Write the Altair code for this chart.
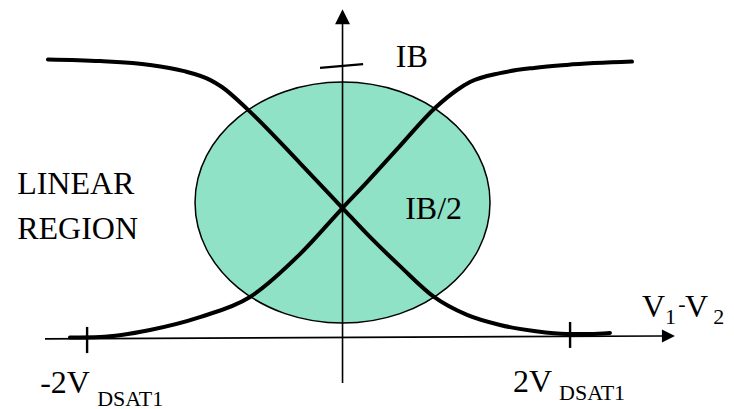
import altair as alt
import pandas as pd

# Drain currents of the differential pair versus V1-V2.
# Current is normalised to IB = 1; x is in units where 2V_DSAT1 is about 1.
fall_x = [-1.204, -0.991, -0.787, -0.652, -0.542, -0.493, -0.386, -0.174, 0.0,
          0.100, 0.235, 0.374, 0.509, 0.644, 0.783, 0.917, 1.011, 1.093]
fall_y = [1.022, 1.016, 1.002, 0.980, 0.947, 0.921, 0.837, 0.642, 0.477,
          0.382, 0.264, 0.151, 0.085, 0.048, 0.026, 0.015, 0.015, 0.019]
rise_x = [-1.114, -0.991, -0.787, -0.583, -0.378, -0.174, 0.0, 0.100, 0.235,
          0.378, 0.468, 0.521, 0.644, 0.783, 0.917, 1.183]
rise_y = [0.002, 0.004, 0.030, 0.077, 0.151, 0.308, 0.477, 0.572, 0.705,
          0.844, 0.910, 0.939, 0.972, 0.991, 1.002, 1.014]

# Linear region (ellipse centre)
region_x = [0.0]
region_y = [0.497]

# Axis lines: (x, y) -> (x2, y2)
axis_x = [0.0, -1.216]
axis_y = [-0.165, -0.003]
axis_x2 = [0.0, 1.306]
axis_y2 = [1.152, 0.008]

# Tick marks at -2VDSAT1, +2VDSAT1 and IB
tick_x = [-1.044, 0.930, -0.092]
tick_y = [0.041, 0.059, 0.991]
tick_x2 = [-1.044, 0.930, 0.084]
tick_y2 = [-0.055, -0.036, 1.005]

# Labels (main size) and subscripts
label_text = ["IB", "IB/2", "LINEAR", "REGION", "-2V", "2V", "V", "V"]
label_x = [0.218, 0.256, -1.330, -1.330, -1.236, 0.697, 1.224, 1.400]
label_y = [0.994, 0.436, 0.528, 0.364, -0.201, -0.198, 0.078, 0.078]
sub_text = ["DSAT1", "DSAT1", "1", "-", "2"]
sub_x = [-1.003, 0.885, 1.318, 1.372, 1.515]
sub_y = [-0.249, -0.227, 0.052, 0.099, 0.052]

FONT = "Liberation Serif"
W, H = 734, 409

xs = alt.Scale(domain=[-1.4, 1.6], nice=False, zero=False)
ys = alt.Scale(domain=[-0.26, 1.24], nice=False, zero=False)

curves = pd.DataFrame({
    "x": fall_x + rise_x,
    "y": fall_y + rise_y,
    "curve": ["fall"] * len(fall_x) + ["rise"] * len(rise_x),
    "i": list(range(len(fall_x))) + list(range(len(rise_x))),
})
region = pd.DataFrame({"x": region_x, "y": region_y})
axes_df = pd.DataFrame({"x": axis_x, "y": axis_y, "x2": axis_x2, "y2": axis_y2})
ticks_df = pd.DataFrame({"x": tick_x, "y": tick_y, "x2": tick_x2, "y2": tick_y2})

# Ellipse outline as a unit-box symbol path (cubic Bezier approximation)
k = 0.5523
a = 120.5 / 147.5
ka = k * a
ellipse_path = (
    f"M-1,0 C-1,{-ka:.4f} {-k},{-a:.4f} 0,{-a:.4f} "
    f"C{k},{-a:.4f} 1,{-ka:.4f} 1,0 "
    f"C1,{ka:.4f} {k},{a:.4f} 0,{a:.4f} "
    f"C{-k},{a:.4f} -1,{ka:.4f} -1,0 Z"
)

X = alt.X("x:Q", scale=xs, axis=None)
Y = alt.Y("y:Q", scale=ys, axis=None)

ellipse = alt.Chart(region).mark_point(
    shape=ellipse_path, size=295 ** 2, filled=True,
    fill="#8fe2c6", stroke="black", strokeWidth=1.5, opacity=1, fillOpacity=1,
).encode(x=X, y=Y)

axis_lines = alt.Chart(axes_df).mark_rule(color="black", strokeWidth=1.6).encode(
    x=X, y=Y, x2="x2:Q", y2="y2:Q"
)
tick_lines = alt.Chart(ticks_df).mark_rule(color="black", strokeWidth=2.4).encode(
    x=X, y=Y, x2="x2:Q", y2="y2:Q"
)

up_arrow = alt.Chart(pd.DataFrame({"x": [0.0], "y": [1.179]})).mark_point(
    shape="M0,-1 L-1,1 L1,1 Z", size=225, filled=True, color="black", opacity=1
).encode(x=X, y=Y)
right_arrow = alt.Chart(pd.DataFrame({"x": [1.332], "y": [0.008]})).mark_point(
    shape="M1,0 L-1,-1 L-1,1 Z", size=169, filled=True, color="black", opacity=1
).encode(x=X, y=Y)

lines = alt.Chart(curves).mark_line(
    color="black", strokeWidth=4, interpolate="monotone", strokeCap="round"
).encode(x=X, y=Y, detail="curve:N", order="i:Q")


def text_layer(t, x, y, size):
    df = pd.DataFrame({"t": [t], "x": [x], "y": [y]})
    return alt.Chart(df).mark_text(
        font=FONT, fontSize=size, align="left", baseline="alphabetic"
    ).encode(x=X, y=Y, text="t:N")


texts = [text_layer(t, x, y, 32) for t, x, y in zip(label_text, label_x, label_y)]
texts += [text_layer(t, x, y, 22) for t, x, y in zip(sub_text, sub_x, sub_y)]

chart = alt.layer(
    ellipse, axis_lines, tick_lines, up_arrow, right_arrow, lines, *texts
).properties(
    width=W, height=H, autosize=alt.AutoSizeParams(type="none"), padding=0
).configure_view(stroke=None)

chart.save("out.html", embed_options={"renderer": "svg", "actions": False})
